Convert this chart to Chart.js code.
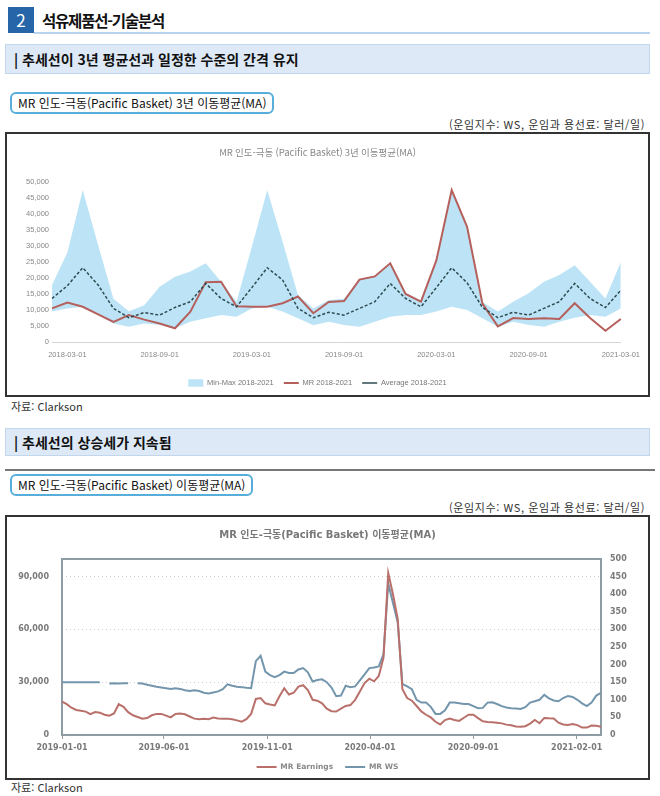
<!DOCTYPE html>
<html lang="ko">
<head>
<meta charset="UTF-8" />
<title>석유제품선-기술분석</title>
<script src="https://cdn.jsdelivr.net/npm/chart.js"></script>
<style>
  body { margin:0; width:660px; height:796px; position:relative; background:#fff; overflow:hidden;
         font-family:'Noto Sans CJK KR', sans-serif; color:#111; }
  .abs { position:absolute; }
  .numbox { left:8px; top:7px; width:26px; height:26px; background:#2565a8; color:#fff;
            font-size:17px; line-height:26px; text-align:center; }
  .head { left:42px; top:7px; font-size:15.5px; font-weight:bold; letter-spacing:-1.2px; line-height:26px; }
  .headline { left:34px; top:32px; width:616px; height:2px; background:#b9d3ee; }
  .bar { left:5px; width:645px; background:#dde9f6; border:1px solid #c2d6ec; box-sizing:border-box;
         font-size:14px; font-weight:bold; padding-left:8px; }
  .tag { left:10px; border:2px solid #58aedb; border-radius:6px; font-size:12px; padding:0 6px;
         line-height:18px; background:#fff; }
  .unit { right:15px; font-size:11px; color:#333; letter-spacing:0.6px; }
  .src { left:11px; font-size:11px; color:#333; }
  .chartbox { left:5px; width:645px; height:265px; border:2px solid #333; box-sizing:border-box; }
  .chartbox div { position:relative; width:641px; height:261px; }
</style>
</head>
<body>
  <div class="abs numbox">2</div>
  <div class="abs head">석유제품선-기술분석</div>
  <div class="abs headline"></div>

  <div class="abs bar" style="top:44px;height:30px;line-height:28px;">| 추세선이 3년 평균선과 일정한 수준의 간격 유지</div>
  <div class="abs tag" style="top:92px;">MR 인도-극동(Pacific Basket) 3년 이동평균(MA)</div>
  <div class="abs unit" style="top:116px;">(운임지수: WS, 운임과 용선료: 달러/일)</div>
  <div class="abs chartbox" style="top:132px;"><div><canvas id="maChart"></canvas></div></div>
  <div class="abs src" style="top:398px;">자료: Clarkson</div>

  <div class="abs bar" style="top:428px;height:28px;line-height:26px;">| 추세선의 상승세가 지속됨</div>
  <div class="abs" style="left:5px;top:469px;width:650px;height:2px;background:#777;"></div>
  <div class="abs tag" style="top:474px;">MR 인도-극동(Pacific Basket) 이동평균(MA)</div>
  <div class="abs unit" style="top:499px;">(운임지수: WS, 운임과 용선료: 달러/일)</div>
  <div class="abs chartbox" style="top:515px;"><div><canvas id="weekChart"></canvas></div></div>
  <div class="abs src" style="top:779px;">자료: Clarkson</div>

<script>
// ---- chart 1 : monthly, 3-year band ----
const months = ['2018-02-01','2018-03-01','2018-04-01','2018-05-01','2018-06-01','2018-07-01','2018-08-01','2018-09-01',
  '2018-10-01','2018-11-01','2018-12-01','2019-01-01','2019-02-01','2019-03-01','2019-04-01','2019-05-01',
  '2019-06-01','2019-07-01','2019-08-01','2019-09-01','2019-10-01','2019-11-01','2019-12-01','2020-01-01',
  '2020-02-01','2020-03-01','2020-04-01','2020-05-01','2020-06-01','2020-07-01','2020-08-01','2020-09-01',
  '2020-10-01','2020-11-01','2020-12-01','2021-01-01','2021-02-01','2021-03-01'];
const bandMax = [17800,28000,47500,30300,13500,9600,11500,17300,20400,22000,24600,18800,12600,29800,47500,31300,
  14700,10500,13100,13500,19700,20600,24600,15200,13000,25000,47500,35500,12500,9500,12600,15200,18800,20900,
  24000,18800,13600,25000];
const bandMin = [9500,10500,11000,8400,5800,4800,5800,5300,4300,6300,7400,8400,7900,10500,11000,9500,7400,5200,
  6300,5300,4800,6300,7900,8400,8400,9500,11000,10000,7400,4800,6300,5300,4800,6300,7600,8400,7900,10500];
const mrLine = [10500,12300,11000,8600,6300,8400,7000,5800,4300,9500,18700,18800,11200,11000,11000,12100,14200,
  9000,12500,12800,19500,20500,24600,15000,12600,25500,47500,36000,12000,4900,7500,7200,7400,7200,12100,7500,
  3500,7200];
const avgLine = [13600,17600,23200,17800,10500,7600,9200,8400,10800,12600,18300,13600,11000,17000,23200,19400,
  10500,7600,9300,8400,10500,12600,18300,13600,11000,17000,23200,18500,10800,7600,9300,8400,10500,12600,18300,
  13600,10800,16200];

// ---- chart 2 : weekly from 2019-01-01 ----
const weekStart = '2019-01-01';
const earnings = [19000,17500,15500,14200,13800,13300,11800,13000,12700,11500,
  11000,12200,17500,16000,13000,11200,10200,9200,9600,11200,
  12000,12000,11000,10000,12000,12200,11800,10500,9300,9000,
  9200,9000,9900,9400,9300,9300,8900,8300,7600,9000,
  12000,20500,21000,18000,17300,16800,22000,26600,23000,24000,
  27500,28300,25500,20000,19500,18000,15000,13500,13300,15000,
  16500,17000,20000,24700,29500,32000,30500,33500,44000,92000,
  80000,66000,26000,21000,19500,16500,13400,11500,10000,7500,
  6000,8500,9300,8500,8000,9800,11500,11500,9600,7800,
  7400,7200,7000,6600,5900,5500,4800,4700,5000,6500,
  8500,6700,9700,9500,9400,7000,6000,5700,6200,5600,
  4200,4200,5400,5300,4700];
const wsIndex = [150,150,150,150,150,150,150,150,150,null,
  146,147,146,147,147,null,147,146,143,140,
  137,135,133,131,133,131,127,125,127,125,
  120,118,121,124,130,144,140,137,136,134,
  133,210,225,180,170,164,170,180,176,176,
  186,190,178,152,156,158,150,135,110,112,
  140,136,138,155,172,190,192,195,230,430,
  375,320,145,138,130,100,92,92,80,60,
  60,70,92,92,90,88,88,82,76,77,
  92,93,88,82,78,76,75,74,79,92,
  96,100,114,104,98,96,105,111,108,100,
  90,82,92,112,120];
const xTickDates = ['2019-01-01','2019-06-01','2019-11-01','2020-04-01','2020-09-01','2021-02-01'];

const dayOf = s => (Date.parse(s) - Date.parse(weekStart)) / 86400000;
const fmt = v => v.toLocaleString('en-US');

// grey frame round the plot area of the weekly chart
const plotFrame = {
  id: 'plotFrame',
  beforeDatasetsDraw(chart) {
    const a = chart.chartArea, ctx = chart.ctx;
    ctx.save();
    ctx.strokeStyle = '#8d9ca4';
    ctx.lineWidth = 2;
    ctx.strokeRect(a.left, a.top, a.right - a.left, a.bottom - a.top);
    ctx.restore();
  }
};

const small1 = { family: "'Liberation Sans', 'Noto Sans CJK KR'", size: 7.5 };

new Chart(document.getElementById('maChart'), {
  type: 'line',
  data: {
    labels: months,
    datasets: [
      { label: 'Min-Max 2018-2021', data: bandMax, fill: 3, backgroundColor: 'rgba(165,219,243,0.75)',
        borderWidth: 0, borderColor: 'rgba(0,0,0,0)', pointRadius: 0, pointStyle: 'rect', order: 3 },
      { label: 'MR 2018-2021', data: mrLine, borderColor: '#b5605c', backgroundColor: '#b5605c',
        borderWidth: 2, pointRadius: 0, pointStyle: 'line', order: 1 },
      { label: 'Average 2018-2021', data: avgLine, borderColor: '#2f4b52', backgroundColor: '#2f4b52',
        borderWidth: 1.5, borderDash: [3, 2], pointRadius: 0, pointStyle: 'line', order: 0 },
      { label: 'min', data: bandMin, borderWidth: 0, borderColor: 'rgba(0,0,0,0)', pointRadius: 0, order: 4 }
    ]
  },
  options: {
    responsive: true,
    maintainAspectRatio: false,
    animation: false,
    layout: { padding: { left: 0, right: 20, top: 0, bottom: -1.75 } },
    elements: { line: { tension: 0 } },
    plugins: {
      title: { display: true, text: 'MR 인도-극동 (Pacific Basket) 3년 이동평균(MA)', color: '#888',
        font: { family: "'Noto Sans CJK KR'", size: 9.5, weight: 'normal' }, padding: { top: 12.3, bottom: 24.3 } },
      legend: { position: 'bottom',
        labels: { filter: it => it.text !== 'min', sort: (a, b) => a.datasetIndex - b.datasetIndex,
          usePointStyle: true, pointStyleWidth: 15, boxHeight: 7.5,
          padding: 10, color: '#777', font: small1 } },
      tooltip: { enabled: false }
    },
    scales: {
      x: { grid: { display: false, drawTicks: false }, border: { display: true, color: '#d6d6d6', dash: [2, 2] },
        afterFit: s => { s.height = 27.25; },
        ticks: { autoSkip: false, maxRotation: 0, padding: 8, color: '#888', font: small1,
          callback: function (v, i) { return i % 6 === 1 ? this.getLabelForValue(v) : ''; } } },
      y: { min: 0, max: 50000, grid: { display: false, drawTicks: false }, border: { display: false },
        afterFit: s => { s.width = 45; },
        ticks: { stepSize: 5000, padding: 3, color: '#888', font: small1, callback: v => fmt(v) } }
    }
  }
});

const bold2 = { family: "'DejaVu Sans', 'Noto Sans CJK KR'", size: 8, weight: 'bold' };

new Chart(document.getElementById('weekChart'), {
  type: 'line',
  plugins: [plotFrame],
  data: {
    datasets: [
      { label: 'MR Earnings', data: earnings.map((v, k) => ({ x: k * 7, y: v })), yAxisID: 'y',
        borderColor: '#b9706b', backgroundColor: '#b9706b', borderWidth: 2, pointRadius: 0, pointStyle: 'line' },
      { label: 'MR WS', data: wsIndex.map((v, k) => ({ x: k * 7, y: v })), yAxisID: 'y1',
        borderColor: '#7496ad', backgroundColor: '#7496ad', borderWidth: 2, pointRadius: 0, pointStyle: 'line' }
    ]
  },
  options: {
    responsive: true,
    maintainAspectRatio: false,
    animation: false,
    layout: { padding: { left: 0, right: 0, top: 0, bottom: -2.75 } },
    elements: { line: { tension: 0 } },
    plugins: {
      title: { display: true, text: 'MR 인도-극동(Pacific Basket) 이동평균(MA)', color: '#777',
        font: { family: "'DejaVu Sans', 'Noto Sans CJK KR'", size: 10, weight: 'bold' }, padding: { top: 12, bottom: 18 } },
      legend: { position: 'bottom',
        labels: { usePointStyle: true, pointStyleWidth: 20, boxHeight: 7.5, padding: 12, color: '#888',
          font: { family: "'DejaVu Sans'", size: 7.5, weight: 'bold' } } },
      tooltip: { enabled: false }
    },
    scales: {
      x: { type: 'linear', min: 0, max: 798,
        grid: { display: true, drawOnChartArea: false, drawTicks: true, tickLength: 4, color: '#8d9ca4' },
        border: { display: false },
        afterBuildTicks: s => { s.ticks = xTickDates.map(d => ({ value: dayOf(d) })); },
        afterFit: s => { s.height = 16.25; },
        ticks: { maxRotation: 0, padding: 4, color: '#7a7a7a', font: bold2, callback: (v, i) => xTickDates[i] } },
      y: { position: 'left', min: 0, max: 100000,
        grid: { color: '#cfcfcf', drawTicks: false }, border: { display: false, dash: [1, 3] },
        afterBuildTicks: s => { s.ticks = [0, 30000, 60000, 90000].map(v => ({ value: v })); },
        afterFit: s => { s.width = 55; },
        ticks: { padding: 13, color: '#7a7a7a', font: bold2, callback: v => fmt(v) } },
      y1: { position: 'right', min: 0, max: 500, grid: { display: false, drawTicks: false }, border: { display: false },
        afterFit: s => { s.width = 47; },
        ticks: { stepSize: 50, padding: 9, color: '#7a7a7a', font: bold2 } }
    }
  }
});
</script>
</body>
</html>
